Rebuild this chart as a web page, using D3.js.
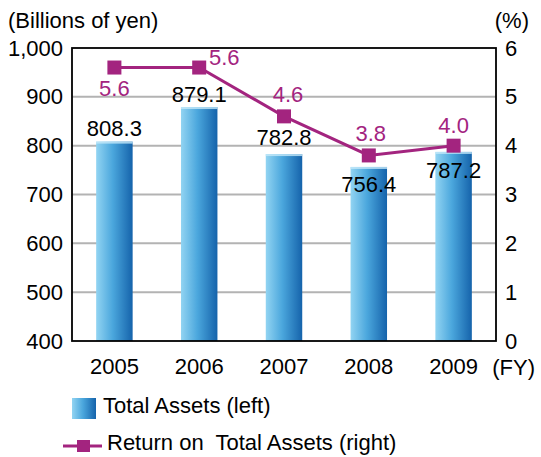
<!DOCTYPE html>
<html>
<head>
<meta charset="utf-8">
<script src="https://cdn.jsdelivr.net/npm/d3@7"></script>
<style>
  body { margin: 0; background: #fff; }
  svg text { font-family: "Liberation Sans", Arial, sans-serif; font-size: 22px; }
</style>
</head>
<body>
<script>
// chart data
var years = ["2005", "2006", "2007", "2008", "2009"];
var totalAssets = [808.3, 879.1, 782.8, 756.4, 787.2];
var returnOnAssets = [5.6, 5.6, 4.6, 3.8, 4.0];
var leftTicks = [400, 500, 600, 700, 800, 900, 1000];
var rightTicks = [0, 1, 2, 3, 4, 5, 6];

// label offsets (px) so labels dodge the line
var barLabelDy = [-6, -5, -9, 25, 26];
var lineLabelDx = [0, 25, 4, 2, 0];
var lineLabelDy = [28, -3, -14, -14, -13];

var margin = { top: 48, right: 45, bottom: 116, left: 72 };
var width = 541 - margin.left - margin.right,
    height = 457 - margin.top - margin.bottom;

var svg = d3.select("body").append("svg")
    .attr("width", 541)
    .attr("height", 457);

var defs = svg.append("defs");
var grad = defs.append("linearGradient").attr("id", "barGrad")
    .attr("x1", "0%").attr("x2", "100%").attr("y1", "0%").attr("y2", "0%");
grad.append("stop").attr("offset", "0%").attr("stop-color", "#92d4f2");
grad.append("stop").attr("offset", "45%").attr("stop-color", "#4ba7dd");
grad.append("stop").attr("offset", "100%").attr("stop-color", "#1563ab");

var g = svg.append("g")
    .attr("transform", "translate(" + margin.left + "," + margin.top + ")");

var x = d3.scaleBand().domain(years).range([0, width]).paddingInner(0.57).paddingOuter(0.285);
var y = d3.scaleLinear().domain([400, 1000]).range([height, 0]);
var y2 = d3.scaleLinear().domain([0, 6]).range([height, 0]);

// gridlines
g.selectAll(".grid")
    .data(leftTicks.slice(1, -1))
  .enter().append("line")
    .attr("x1", 0).attr("x2", width)
    .attr("y1", function(d) { return y(d); })
    .attr("y2", function(d) { return y(d); })
    .attr("stroke", "#b3b3b3").attr("stroke-width", 2);

// bars
g.selectAll(".bar")
    .data(totalAssets)
  .enter().append("rect")
    .attr("x", function(d, i) { return x(years[i]); })
    .attr("width", x.bandwidth())
    .attr("y", function(d) { return y(d); })
    .attr("height", function(d) { return height - y(d); })
    .style("fill", "url(#barGrad)");

g.selectAll(".barTop")
    .data(totalAssets)
  .enter().append("rect")
    .attr("x", function(d, i) { return x(years[i]); })
    .attr("width", x.bandwidth())
    .attr("y", function(d) { return y(d); })
    .attr("height", 2)
    .style("fill", "#c4e9f9").style("opacity", 0.8);

// frame
g.append("rect")
    .attr("width", width).attr("height", height)
    .attr("fill", "none").attr("stroke", "#000").attr("stroke-width", 1.8);

// axes
var yAxis = d3.axisLeft(y).tickValues(leftTicks).tickSize(0).tickPadding(9)
    .tickFormat(d3.format(","));
var yAxis2 = d3.axisRight(y2).tickValues(rightTicks).tickSize(0).tickPadding(9)
    .tickFormat(d3.format("d"));
var xAxis = d3.axisBottom(x).tickSize(0).tickPadding(17);

function styleAxis(sel) {
  sel.select(".domain").remove();
  sel.selectAll("text").attr("fill", "#000");
}
g.append("g").call(yAxis).call(styleAxis);
g.append("g").attr("transform", "translate(" + width + ",0)").call(yAxis2).call(styleAxis);
g.append("g").attr("transform", "translate(0," + height + ")").call(xAxis).call(styleAxis);

// bar value labels
g.selectAll(".barLabel")
    .data(totalAssets)
  .enter().append("text")
    .attr("x", function(d, i) { return x(years[i]) + x.bandwidth() / 2; })
    .attr("y", function(d, i) { return y(d) + barLabelDy[i]; })
    .attr("text-anchor", "middle")
    .text(function(d) { return d.toFixed(1); });

// line
var purple = "#a3247f";
var line = d3.line()
    .x(function(d, i) { return x(years[i]) + x.bandwidth() / 2; })
    .y(function(d) { return y2(d); });

g.append("path")
    .attr("d", line(returnOnAssets))
    .attr("fill", "none").attr("stroke", purple).attr("stroke-width", 3);

g.selectAll(".marker")
    .data(returnOnAssets)
  .enter().append("rect")
    .attr("x", function(d, i) { return x(years[i]) + x.bandwidth() / 2 - 7; })
    .attr("y", function(d) { return y2(d) - 7; })
    .attr("width", 14).attr("height", 14)
    .attr("fill", purple);

g.selectAll(".lineLabel")
    .data(returnOnAssets)
  .enter().append("text")
    .attr("x", function(d, i) { return x(years[i]) + x.bandwidth() / 2 + lineLabelDx[i]; })
    .attr("y", function(d, i) { return y2(d) + lineLabelDy[i]; })
    .attr("text-anchor", "middle")
    .attr("fill", purple)
    .text(function(d) { return d.toFixed(1); });

// axis titles
svg.append("text").attr("x", 8).attr("y", 28).text("(Billions of yen)");
svg.append("text").attr("x", 529).attr("y", 28).attr("text-anchor", "end").text("(%)");
svg.append("text").attr("x", 535).attr("y", 375).attr("text-anchor", "end").text("(FY)");

// legend
svg.append("rect").attr("x", 72).attr("y", 398).attr("width", 24).attr("height", 21)
    .style("fill", "url(#barGrad)");
svg.append("text").attr("x", 103).attr("y", 413).text("Total Assets (left)");

svg.append("line").attr("x1", 63).attr("x2", 102).attr("y1", 446).attr("y2", 446)
    .attr("stroke", purple).attr("stroke-width", 3);
svg.append("rect").attr("x", 77).attr("y", 440).attr("width", 13).attr("height", 12).attr("fill", purple);
svg.append("text").attr("x", 107).attr("y", 450).text("Return on\u00a0 Total Assets (right)");
</script>
</body>
</html>
